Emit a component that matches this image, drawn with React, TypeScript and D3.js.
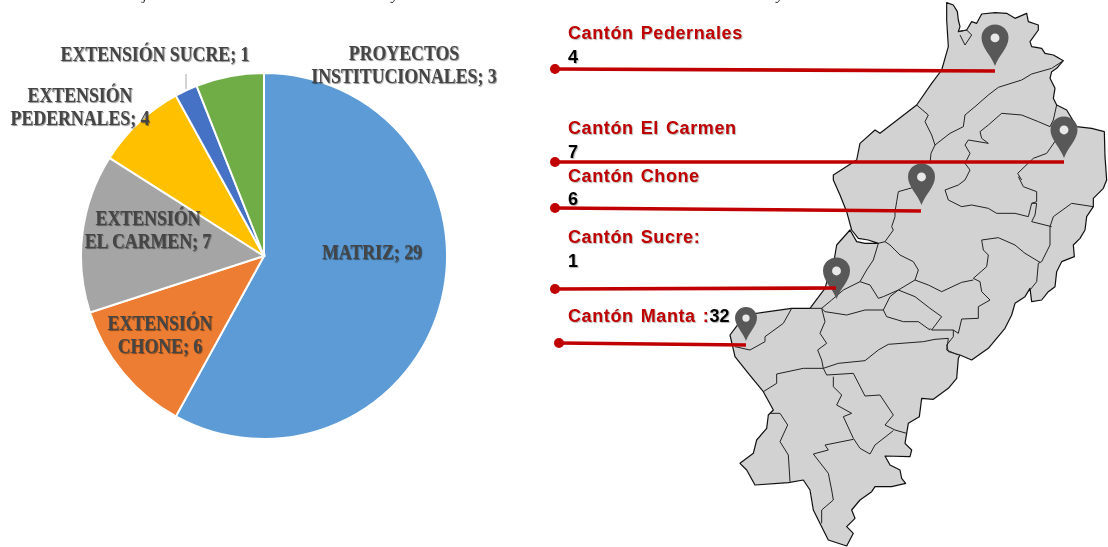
import React from "react";
import * as d3 from "d3";

const sliceNames = ["MATRIZ", "CHONE", "EL CARMEN", "PEDERNALES", "SUCRE", "PROYECTOS"];
const sliceValues = [29, 6, 7, 4, 1, 3];
const sliceColors = ["#5b9bd5", "#ed7d31", "#a5a5a5", "#ffc000", "#4472c4", "#70ad47"];

const pieLabels: [string[], number, number][] = [
  [["MATRIZ; 29"], 372, 259],
  [["EXTENSIÓN", "CHONE; 6"], 160, 330],
  [["EXTENSIÓN", "EL CARMEN; 7"], 148, 225],
  [["EXTENSIÓN", "PEDERNALES; 4"], 80, 102],
  [["EXTENSIÓN SUCRE; 1"], 155, 61],
  [["PROYECTOS", "INSTITUCIONALES; 3"], 404, 60],
];

const cantonNames = ["Cantón Pedernales", "Cantón El Carmen", "Cantón Chone", "Cantón Sucre:", "Cantón Manta :"];
const cantonValues = ["4", "7", "6", "1", "32"];
const cantonNameY = [39, 134, 182, 243, 322];
const cantonValueY = [63, 158, 205, 267, 322];
const lineStart: [number, number][] = [[555, 69], [555, 162], [555, 208], [555, 289], [559, 343]];
const lineEnd: [number, number][] = [[995, 71], [1064, 162], [921, 211], [836, 288], [746, 345]];
const pinTip: [number, number, number][] = [[995, 66, 13.5], [1064, 158, 13.5], [921.5, 205, 13.5], [836.5, 299, 13.5], [746, 341, 11]];

const captionGlyphs: [string, number][] = [["j", 145], ["y", 395], ["y", 780]];

type P = [number, number];

const outlineNorth: P[] = [[365, 8], [385, 15], [397, 35], [400, 60], [405, 80], [400, 95], [425, 90], [440, 65], [455, 70], [470, 42], [510, 38], [545, 40], [570, 55], [605, 40], [610, 65], [640, 75], [640, 90], [615, 125], [620, 140], [650, 145], [660, 160], [685, 165], [715, 182], [695, 205], [680, 215], [675, 235], [690, 265], [685, 295], [695, 315], [725, 330], [755, 380], [800, 385], [838, 395], [840, 470], [845, 540]];
const outlineEast: P[] = [[875, 15], [865, 40], [835, 70], [835, 95], [815, 125], [810, 165], [795, 190], [775, 210], [778, 245], [740, 260], [725, 290], [720, 335], [700, 350], [680, 375], [650, 380], [645, 340], [630, 365], [600, 385], [590, 420], [570, 460], [545, 490], [520, 520], [470, 555], [435, 540]];
const outlineSouth: P[] = [[700, 175], [695, 235], [670, 265], [625, 298], [590, 295], [583, 350], [550, 370], [545, 400], [540, 430], [560, 450], [555, 470], [480, 468], [495, 495], [525, 510], [530, 535], [542, 550], [500, 560], [450, 560], [440, 575], [405, 600], [380, 630], [390, 655], [365, 680], [385, 700], [365, 738], [310, 720], [290, 680], [265, 630], [255, 570], [235, 540], [190, 548], [90, 555], [65, 510], [45, 490], [85, 460], [95, 420], [125, 385], [130, 345], [145, 330], [115, 275], [70, 220], [30, 170], [15, 105], [30, 85], [60, 45], [130, 35], [200, 25], [255, 25]];
const outlineCoast: P[] = [[0, 380], [30, 340], [40, 305], [55, 270], [65, 210], [105, 165], [125, 200], [150, 205], [190, 205], [160, 195], [130, 190], [110, 165], [95, 110], [75, 60], [55, 15]];
const outlineNorthWest: P[] = [[25, 525], [95, 480], [105, 430], [150, 390], [165, 400], [275, 315], [320, 250], [350, 210], [370, 140], [365, 60]];

const bordersNorth: P[][] = [
  [[400, 95], [425, 90], [440, 105], [420, 135], [405, 105]],
  [[275, 315], [310, 345], [300, 365], [320, 405], [330, 435], [318, 460], [315, 490]],
  [[330, 435], [375, 400], [415, 380], [420, 345], [450, 320], [490, 285], [520, 262], [590, 240], [620, 222], [680, 205], [715, 182]],
  [[695, 315], [685, 360], [675, 380], [640, 365], [590, 345], [530, 340], [490, 375], [465, 395], [470, 415], [490, 430], [430, 420], [420, 435], [435, 460], [420, 490], [435, 510], [420, 540]],
  [[700, 410], [665, 460], [625, 475], [578, 520], [590, 540]],
];
const bordersMiddle: P[][] = [
  [[345, -20], [320, 30], [285, 40], [250, 50], [245, 80], [240, 110], [240, 125], [230, 155], [235, 165], [210, 200], [190, 205]],
  [[450, 15], [430, 30], [390, 45], [400, 75], [440, 95], [470, 90], [520, 100], [545, 115], [600, 115], [640, 125], [650, 85], [665, 85], [660, 120], [650, 140], [710, 155]],
  [[610, 5], [625, 35], [665, 50], [665, 80], [650, 85]],
  [[835, 95], [770, 85], [715, 125], [705, 155], [705, 210], [680, 260], [670, 265], [665, 320], [645, 345]],
  [[500, 195], [550, 188], [600, 210], [630, 235], [675, 262]],
  [[500, 195], [505, 225], [520, 240], [515, 275], [475, 310], [495, 320], [500, 350], [525, 375], [490, 395], [490, 430], [440, 432], [430, 475], [415, 465], [350, 465], [345, 460]],
  [[475, 315], [440, 322], [380, 350], [340, 330], [300, 315], [250, 345], [205, 365], [190, 370], [165, 330], [135, 320]],
  [[300, 315], [310, 285], [295, 260], [255, 240], [225, 210], [210, 200]],
  [[135, 320], [155, 285], [175, 255], [190, 205]],
  [[135, 320], [85, 345], [50, 375], [20, 400]],
  [[20, 400], [30, 410], [95, 420], [150, 405], [205, 405]],
  [[205, 405], [225, 365], [250, 345]],
  [[205, 405], [215, 425], [265, 440], [310, 440], [345, 465]],
  [[250, 345], [300, 365], [345, 400], [380, 425], [350, 465]],
  [[415, 465], [415, 485], [395, 510], [400, 530], [435, 540]],
];
const bordersSouth: P[][] = [
  [[295, 205], [340, 190], [420, 182], [460, 150], [490, 133], [595, 125], [630, 118], [670, 115], [665, 150], [700, 165]],
  [[30, 140], [75, 150], [120, 125], [120, 110], [175, 70], [200, 25]],
  [[255, 25], [290, 25], [300, 65], [285, 100], [305, 130], [278, 150], [290, 180], [295, 205]],
  [[295, 205], [305, 225], [385, 220], [420, 288], [465, 285], [505, 345], [480, 375], [510, 390], [545, 400]],
  [[325, 230], [325, 260], [350, 285], [335, 315], [380, 340], [355, 350], [385, 415], [405, 445], [435, 462], [450, 435], [505, 392]],
  [[385, 418], [300, 435], [310, 450], [265, 462], [310, 520], [320, 570], [325, 600], [290, 630], [290, 670]],
  [[115, 275], [155, 250], [155, 222], [235, 205], [295, 205]],
  [[135, 340], [165, 340], [188, 375], [165, 425], [190, 465], [195, 545]],
];

const W = 1108;
const H = 547;
const region = (x0: number, y0: number) => {
  const sx = d3.scaleLinear().domain([0, 3]).range([x0, x0 + 1]);
  const sy = d3.scaleLinear().domain([0, 3]).range([y0, y0 + 1]);
  return (p: P): P => [sx(p[0]), sy(p[1])];
};
const north = region(825, 0);
const middle = region(815, 175);
const south = region(725, 300);

const outline: P[] = [
  ...outlineNorth.map(north),
  ...outlineEast.map(middle),
  ...outlineSouth.map(south),
  ...outlineCoast.map(middle),
  ...outlineNorthWest.map(north),
];
const borders: P[][] = [
  ...bordersNorth.map((b) => b.map(north)),
  ...bordersMiddle.map((b) => b.map(middle)),
  ...bordersSouth.map((b) => b.map(south)),
];

const mapLine = d3.line<P>();

const pieCx = 264;
const pieCy = 256;
const pieR = 183;
const arcs = d3.pie<number>().sort(null)(sliceValues);
const arcGen = d3.arc<d3.PieArcDatum<number>>().innerRadius(0).outerRadius(pieR);

function pinPath(x: number, y: number, r: number) {
  const cy = y - r * 2.08;
  return `M${x},${y} C${x - r * 0.25},${cy + r * 1.35} ${x - r},${cy + r * 0.7} ${x - r},${cy} A${r},${r} 0 1 1 ${x + r},${cy} C${x + r},${cy + r * 0.7} ${x + r * 0.25},${cy + r * 1.35} ${x},${y} Z`;
}

const serif = "'Liberation Serif', serif";
const sans = "'Liberation Sans', Arial, sans-serif";

export default function App() {
  return (
    <svg width={W} height={H} viewBox={`0 0 ${W} ${H}`} style={{ position: "absolute", left: 0, top: 0, background: "#fff" }}>
      <defs>
        <filter id="soft" x="-2%" y="-2%" width="104%" height="104%">
          <feGaussianBlur stdDeviation="0.4" />
        </filter>
      </defs>
      <g filter="url(#soft)">
        {captionGlyphs.map(([g, x], i) => (
          <text key={i} x={x} y={0} fontFamily={serif} fontStyle="italic" fontSize={15} fill="#222" textAnchor="middle">{g}</text>
        ))}
        <g transform={`translate(${pieCx},${pieCy})`}>
          {arcs.map((a, i) => (
            <path key={sliceNames[i]} d={arcGen(a) ?? ""} fill={sliceColors[i]} stroke="#fff" strokeWidth={2} />
          ))}
        </g>
        <line x1={186} x2={186} y1={74} y2={89} stroke="#a6a6a6" strokeWidth={1} />
        {pieLabels.map(([lines, x, y]) => (
          <text key={lines.join()} transform={`translate(${x},${y}) scale(0.89,1)`} textAnchor="middle" fontFamily={serif} fontWeight="bold" fontSize={20} fill="#444" style={{ textShadow: "1px 1px 1px rgba(0,0,0,.45)" }}>
            {lines.map((l, j) => (
              <tspan key={l} x={0} y={j * 23}>{l}</tspan>
            ))}
          </text>
        ))}

        <path d={mapLine(outline) + "Z"} fill="#d2d2d2" stroke="#111" strokeWidth={1.2} strokeLinejoin="round" />
        {borders.map((b, i) => (
          <path key={i} d={mapLine(b) ?? ""} fill="none" stroke="#222" strokeWidth={1} strokeLinejoin="round" />
        ))}

        {pinTip.map(([x, y, r], i) => (
          <g key={i}>
            <path d={pinPath(x, y, r)} fill="#595959" />
            <circle cx={x} cy={y - r * 2.08} r={r * 0.33} fill="#e8e8e8" />
          </g>
        ))}

        {lineStart.map((s, i) => (
          <g key={i}>
            <line x1={s[0]} y1={s[1]} x2={lineEnd[i][0]} y2={lineEnd[i][1]} stroke="#c00000" strokeWidth={3.6} />
            <circle cx={s[0]} cy={s[1]} r={5} fill="#c00000" />
          </g>
        ))}

        {cantonNames.map((n, i) => (
          <text key={n} x={568} y={cantonNameY[i]} fontFamily={sans} fontWeight="bold" fontSize={18} letterSpacing={0.6} wordSpacing={1.5} fill="#c00000" style={{ textShadow: "1px 1px 1px rgba(0,0,0,.3)", whiteSpace: "pre" }}>
            {n}
            {i === 4 ? <tspan fill="#000" letterSpacing={0}>{cantonValues[i]}</tspan> : null}
          </text>
        ))}
        {cantonValues.slice(0, 4).map((v, i) => (
          <text key={i} x={568} y={cantonValueY[i]} fontFamily={sans} fontWeight="bold" fontSize={18} fill="#000" style={{ textShadow: "1px 1px 1px rgba(0,0,0,.3)" }}>
            {v}
          </text>
        ))}
      </g>
    </svg>
  );
}
